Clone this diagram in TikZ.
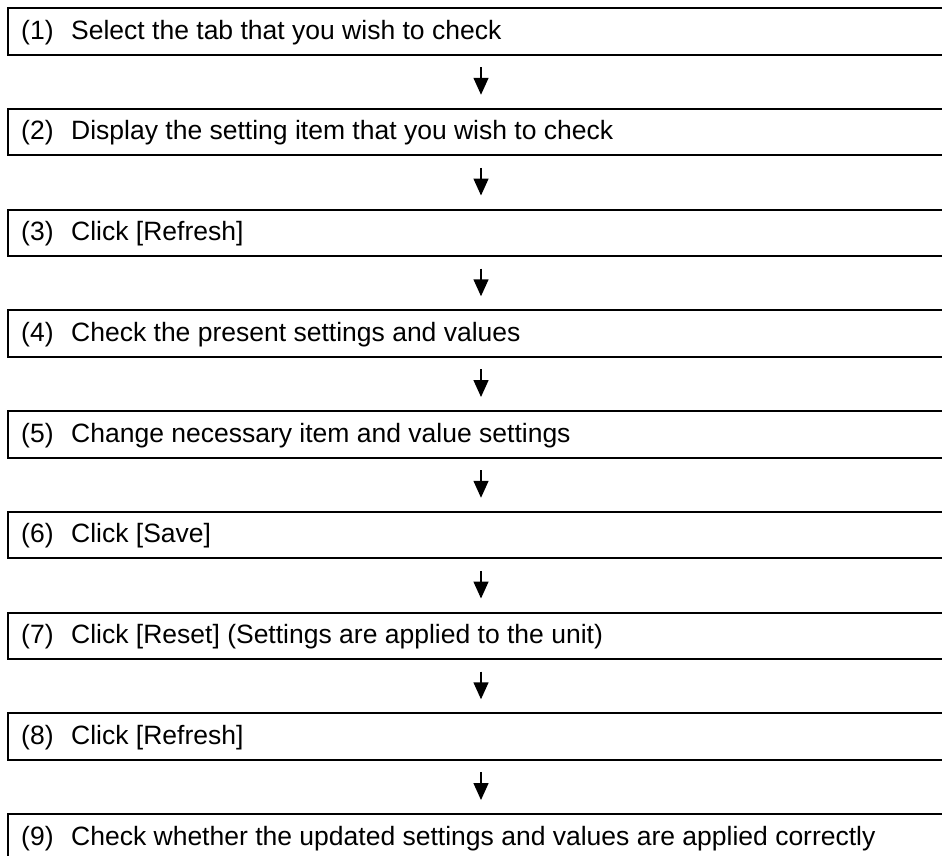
\documentclass[tikz,border=0pt]{standalone}
\usepackage{fontspec}
\setmainfont{Liberation Sans}
\usetikzlibrary{arrows.meta}
\begin{document}
\begin{tikzpicture}[x=1pt,y=-1pt,
  stepbox/.style={draw=black, line width=2pt, minimum width=946pt, minimum height=46.5pt, inner sep=0pt, anchor=north west},
  numtxt/.style={anchor=base west, inner sep=0pt, font=\fontsize{26.5}{30}\selectfont},
  steptxt/.style={anchor=base west, inner sep=0pt, font=\fontsize{26.5}{30}\selectfont},
  arr/.style={line width=1.5pt, -{Triangle[width=15pt,length=17pt]}, shorten <=11.5pt, shorten >=13pt}]
\clip (0,0) rectangle (942,855);
\fill[white] (0,0) rectangle (942,855);
\foreach \i/\t in {1/Select the tab that you wish to check,
                   2/Display the setting item that you wish to check,
                   3/Click [Refresh],
                   4/Check the present settings and values,
                   5/Change necessary item and value settings,
                   6/Click [Save],
                   7/Click [Reset] (Settings are applied to the unit),
                   8/Click [Refresh],
                   9/Check whether the updated settings and values are applied correctly}{
  \pgfmathsetmacro{\top}{7+100.75*(\i-1)}
  \node[stepbox] (b\i) at (7,\top) {};
  \node[numtxt] (n\i) at (21,\top+32) {(\i)};
  \node[steptxt] (t\i) at (71,\top+32) {\t};
}
\foreach \i [evaluate=\i as \j using int(\i+1)] in {1,...,8}{
  \draw[arr] (b\i.south) -- (b\j.north);
}
\end{tikzpicture}
\end{document}
